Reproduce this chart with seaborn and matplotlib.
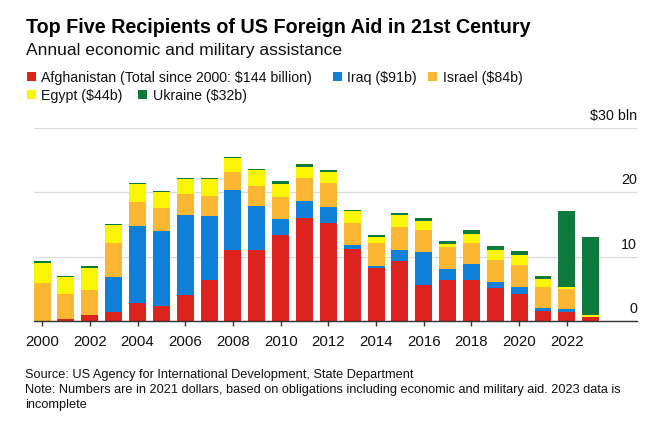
import matplotlib
matplotlib.use("Agg")
import matplotlib.pyplot as plt
from matplotlib.patches import Rectangle
import seaborn as sns
import pandas as pd

# ---------------- data ----------------
years = list(range(2000, 2024))
afghanistan = [0.0, 0.25, 0.9, 1.4, 2.8, 2.4, 4.0, 6.3, 11.0, 11.0, 13.3, 16.0,
               15.3, 11.2, 8.2, 9.3, 5.6, 6.3, 6.3, 5.1, 4.15, 1.55, 1.45, 0.65]
iraq = [0.0, 0.0, 0.0, 5.5, 11.9, 11.55, 12.5, 10.0, 9.3, 6.95, 2.6, 2.6,
        2.4, 0.55, 0.4, 1.7, 5.1, 1.8, 2.6, 1.0, 1.1, 0.45, 0.45, 0.0]
israel = [5.85, 4.0, 3.95, 5.3, 3.8, 3.6, 3.3, 3.15, 2.9, 3.05, 3.4, 3.6,
          3.8, 3.5, 3.5, 3.6, 3.4, 3.4, 3.2, 3.4, 3.4, 3.25, 3.15, 0.0]
egypt = [3.2, 2.55, 3.4, 2.7, 2.8, 2.5, 2.2, 2.6, 2.1, 2.4, 2.0, 1.8,
         1.7, 1.8, 0.95, 1.9, 1.4, 0.4, 1.35, 1.6, 1.6, 1.3, 0.2, 0.25]
ukraine = [0.25, 0.15, 0.25, 0.2, 0.2, 0.2, 0.2, 0.2, 0.2, 0.25, 0.4, 0.4,
           0.25, 0.25, 0.35, 0.3, 0.55, 0.6, 0.65, 0.55, 0.65, 0.5, 11.9, 12.2]

countries = ["Afghanistan", "Iraq", "Israel", "Egypt", "Ukraine"]
legend_labels = ["Afghanistan (Total since 2000: $144 billion)", "Iraq ($91b)",
                 "Israel ($84b)", "Egypt ($44b)", "Ukraine ($32b)"]
colors = ["#dc231e", "#1080d8", "#fcb732", "#faf500", "#0c7a3a"]
xtick_years = list(range(2000, 2023, 2))
ytick_values = [0, 10, 20, 30]
ytick_labels = ["0", "10", "20", "$30 bln"]

title = "Top Five Recipients of US Foreign Aid in 21st Century"
subtitle = "Annual economic and military assistance"
footer = ["Source: US Agency for International Development, State Department",
          "Note: Numbers are in 2021 dollars, based on obligations including economic and military aid. 2023 data is",
          "incomplete"]

series = [afghanistan, iraq, israel, egypt, ukraine]
df = pd.DataFrame({
    "year": [y for s in series for y in years],
    "value": [v for s in series for v in s],
    "country": [c for c, s in zip(countries, series) for _ in years],
})

# ---------------- figure ----------------
sns.set_style("white")
plt.rcParams["font.family"] = ["Liberation Sans", "DejaVu Sans"]

W, H = 660, 431
fig = plt.figure(figsize=(W / 100, H / 100), dpi=100)
L, R, T, B = 34, 637, 129, 322
ax = fig.add_axes([L / W, 1 - B / H, (R - L) / W, (B - T) / H])

palette = dict(zip(countries, colors))
sns.histplot(data=df, x="year", weights="value", hue="country",
             hue_order=countries[::-1], multiple="stack", discrete=True,
             shrink=0.71, palette=palette, linewidth=0, alpha=1,
             legend=False, ax=ax, zorder=3)

ax.set_xlim(1999.66, 2024.94)
ax.set_ylim(0, 30)
ax.set_xlabel("")
ax.set_ylabel("")
ax.set_yticks(ytick_values)
ax.yaxis.grid(True, color="#dcdcdc", linewidth=1.0, zorder=0)
ax.xaxis.grid(False)
ax.tick_params(axis="y", left=False, labelleft=False)
for s in ["top", "left", "right"]:
    ax.spines[s].set_visible(False)
ax.spines["bottom"].set_color("#333333")
ax.spines["bottom"].set_linewidth(1.0)
ax.spines["bottom"].set_zorder(4)

ax.set_xticks(xtick_years)
ax.set_xticklabels([str(y) for y in xtick_years])
ax.tick_params(axis="x", bottom=True, length=3.6, width=1.0, color="#333333",
               labelsize=10.8, pad=6, labelcolor="#111111")

from matplotlib.transforms import offset_copy
tr = offset_copy(ax.get_yaxis_transform(), fig=fig, x=0, y=6.5, units="points")
for v, lab in zip(ytick_values, ytick_labels):
    ax.text(1.0, v, lab, transform=tr, ha="right", va="baseline",
            fontsize=10.3, color="#111111")

# ---------------- titles ----------------
def fy(y):
    return 1 - y / H

fig.text(26 / W, fy(33), title, fontsize=14.2, fontweight="bold",
         color="#000000", va="baseline")
fig.text(26 / W, fy(55), subtitle, fontsize=12.6, color="#111111",
         va="baseline")

# ---------------- legend ----------------
leg_pos = [(27, 41, 82), (333, 347, 82), (428, 443, 82), (27, 41, 100), (138, 153, 100)]
for (sx, tx, by), lab, col in zip(leg_pos, legend_labels, colors):
    fig.add_artist(Rectangle((sx / W, fy(by)), 9 / W, 9 / H,
                             transform=fig.transFigure, facecolor=col,
                             edgecolor="none"))
    fig.text(tx / W, fy(by), lab, fontsize=10.2, color="#111111",
             va="baseline")

# ---------------- footer ----------------
for i, line in enumerate(footer):
    fig.text(25 / W, fy(378 + 15 * i), line, fontsize=9.15, color="#111111",
             va="baseline")

fig.savefig("out.png", dpi=100)
